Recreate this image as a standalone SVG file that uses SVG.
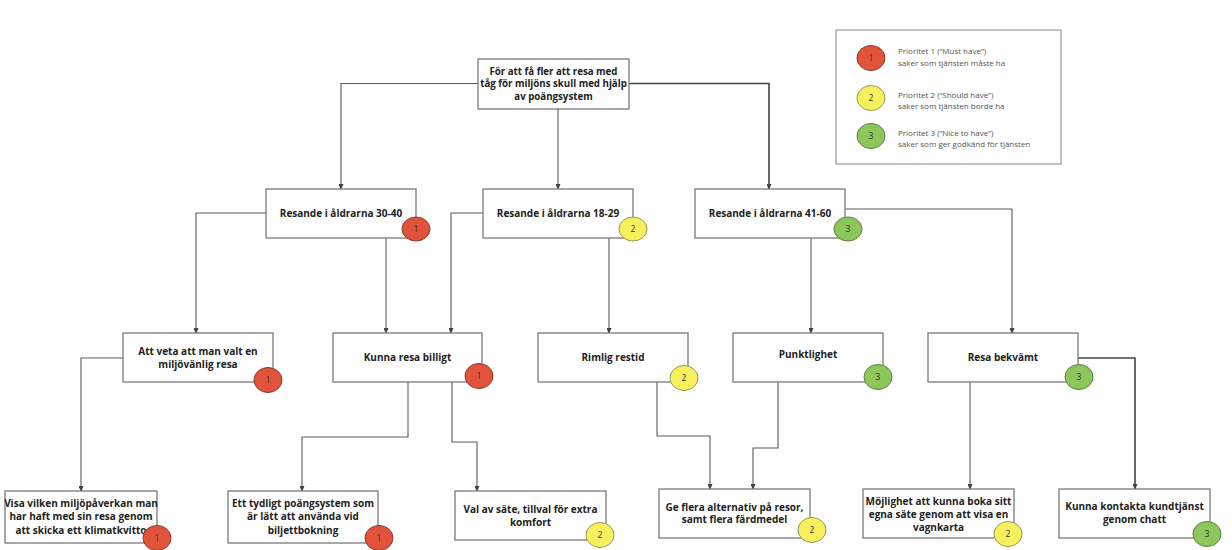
<svg xmlns="http://www.w3.org/2000/svg" width="1232" height="550" viewBox="0 0 1232 550">
  <defs>
    <marker id="arrow" markerWidth="6" markerHeight="5" refX="5" refY="2.5" orient="auto" markerUnits="userSpaceOnUse">
      <path d="M0,0 L6,2.5 L0,5 Z" fill="#444"/>
    </marker>
    <style>
      .box { fill: #ffffff; stroke: #7a7a7a; stroke-width: 1.3; }
      .legend { fill: #ffffff; stroke: #9a9a9a; stroke-width: 1.2; }
      .lbl { font-family: "Open Sans", "Liberation Sans", sans-serif; font-weight: bold; font-size: 10px; fill: #222; text-anchor: middle; }
      .lbl.root { font-size: 9.7px; }
      .leg { font-family: "Open Sans", "Liberation Sans", sans-serif; font-size: 8px; fill: #555; }
      .num { font-family: "Open Sans", "Liberation Sans", sans-serif; font-size: 8.5px; fill: #333; text-anchor: middle; }
      .p1 { fill: #E1533A; stroke: #8c3b2c; stroke-width: 1; }
      .p2 { fill: #F6F05C; stroke: #9a9660; stroke-width: 1; }
      .p3 { fill: #8DC65B; stroke: #5e8040; stroke-width: 1; }
      .wire { fill: none; stroke: #5a5a5a; stroke-width: 1.1; marker-end: url(#arrow); }
      .wire.bold { stroke: #444; stroke-width: 1.6; }
    </style>
  </defs>

  <rect width="1232" height="550" fill="#ffffff"/>

  <!-- connectors -->
  <g id="connectors">
    <path class="wire" d="M478,83.5 H341 V189"/>
    <path class="wire" d="M558,109 V189"/>
    <path class="wire bold" d="M629,83.5 H769 V189"/>
    <path class="wire" d="M266,213 H196 V333"/>
    <path class="wire" d="M386,238 V333"/>
    <path class="wire" d="M483,213 H451 V333"/>
    <path class="wire" d="M609,238 V333"/>
    <path class="wire" d="M811,238 V333"/>
    <path class="wire" d="M845,209 H1012 V333"/>
    <path class="wire" d="M123,358 H81 V491"/>
    <path class="wire" d="M408,382 V437 H302 V491"/>
    <path class="wire" d="M452,382 V442 H477 V491"/>
    <path class="wire" d="M657,382 V436 H710 V489"/>
    <path class="wire" d="M778,382 V448 H753 V489"/>
    <path class="wire" d="M970,382 V489"/>
    <path class="wire bold" d="M1078,358 H1135 V489"/>
  </g>

  <!-- root goal -->
  <g id="root">
    <rect class="box" x="478" y="59" width="151" height="50"/>
    <text class="lbl root" x="553.5" y="74.5">För att få fler att resa med</text>
    <text class="lbl root" x="553.5" y="87">tåg för miljöns skull med hjälp</text>
    <text class="lbl root" x="553.5" y="99.5">av poängsystem</text>
  </g>

  <!-- legend -->
  <g id="legend">
    <rect class="legend" x="836" y="30" width="225" height="134"/>
    <ellipse class="p1" cx="871" cy="58" rx="14" ry="12.5"/>
    <text class="num" x="871" y="61">1</text>
    <text class="leg" x="898" y="54">Prioritet 1 (“Must have”)</text>
    <text class="leg" x="898" y="66">saker som tjänsten måste ha</text>
    <ellipse class="p2" cx="871" cy="98" rx="14" ry="12.5"/>
    <text class="num" x="871" y="101">2</text>
    <text class="leg" x="898" y="98">Prioritet 2 (“Should have”)</text>
    <text class="leg" x="898" y="109">saker som tjänsten borde ha</text>
    <ellipse class="p3" cx="871" cy="136" rx="14" ry="12.5"/>
    <text class="num" x="871" y="139">3</text>
    <text class="leg" x="898" y="136">Prioritet 3 (“Nice to have”)</text>
    <text class="leg" x="898" y="147">saker som ger godkänd för tjänsten</text>
  </g>

  <!-- target groups -->
  <g id="group-30-40">
    <rect class="box" x="266" y="189" width="150" height="49"/>
    <text class="lbl" x="341" y="216.5">Resande i åldrarna 30-40</text>
    <ellipse class="p1" cx="416" cy="229" rx="14" ry="12"/>
    <text class="num" x="416" y="232">1</text>
  </g>
  <g id="group-18-29">
    <rect class="box" x="483" y="189" width="150" height="49"/>
    <text class="lbl" x="558" y="216.5">Resande i åldrarna 18-29</text>
    <ellipse class="p2" cx="633" cy="229" rx="14" ry="12"/>
    <text class="num" x="633" y="232">2</text>
  </g>
  <g id="group-41-60">
    <rect class="box" x="695" y="189" width="150" height="49"/>
    <text class="lbl" x="770" y="216.5">Resande i åldrarna 41-60</text>
    <ellipse class="p3" cx="848" cy="229" rx="14" ry="12"/>
    <text class="num" x="848" y="232">3</text>
  </g>

  <!-- needs -->
  <g id="need-miljo">
    <rect class="box" x="123" y="333" width="150" height="49"/>
    <text class="lbl" x="198" y="354.5">Att veta att man valt en</text>
    <text class="lbl" x="198" y="367.5">miljövänlig resa</text>
    <ellipse class="p1" cx="268" cy="380" rx="14" ry="12.5"/>
    <text class="num" x="268" y="383">1</text>
  </g>
  <g id="need-billigt">
    <rect class="box" x="333" y="333" width="149" height="49"/>
    <text class="lbl" x="407.5" y="360.5">Kunna resa billigt</text>
    <ellipse class="p1" cx="479" cy="376" rx="14" ry="12.5"/>
    <text class="num" x="479" y="379">1</text>
  </g>
  <g id="need-restid">
    <rect class="box" x="538" y="333" width="150" height="49"/>
    <text class="lbl" x="613" y="360.5">Rimlig restid</text>
    <ellipse class="p2" cx="684" cy="378" rx="14" ry="12.5"/>
    <text class="num" x="684" y="381">2</text>
  </g>
  <g id="need-punktlighet">
    <rect class="box" x="733" y="333" width="150" height="49"/>
    <text class="lbl" x="808" y="357.5">Punktlighet</text>
    <ellipse class="p3" cx="878" cy="377" rx="14" ry="12.5"/>
    <text class="num" x="878" y="380">3</text>
  </g>
  <g id="need-bekvamt">
    <rect class="box" x="928" y="333" width="150" height="49"/>
    <text class="lbl" x="1003" y="360.5">Resa bekvämt</text>
    <ellipse class="p3" cx="1079" cy="377" rx="14" ry="12.5"/>
    <text class="num" x="1079" y="380">3</text>
  </g>

  <!-- features -->
  <g id="feature-klimatkvitto">
    <rect class="box" x="5" y="491" width="152" height="52"/>
    <text class="lbl" x="81" y="506.5">Visa vilken miljöpåverkan man</text>
    <text class="lbl" x="81" y="520">har haft med sin resa genom</text>
    <text class="lbl" x="81" y="533.5">att skicka ett klimatkvitto</text>
    <ellipse class="p1" cx="157" cy="538" rx="14" ry="12.5"/>
    <text class="num" x="157" y="541">1</text>
  </g>
  <g id="feature-poangsystem">
    <rect class="box" x="228" y="491" width="150" height="52"/>
    <text class="lbl" x="303" y="506.5">Ett tydligt poängsystem som</text>
    <text class="lbl" x="303" y="520">är lätt att använda vid</text>
    <text class="lbl" x="303" y="533.5">biljettbokning</text>
    <ellipse class="p1" cx="379" cy="538" rx="14" ry="12.5"/>
    <text class="num" x="379" y="541">1</text>
  </g>
  <g id="feature-sate">
    <rect class="box" x="455" y="491" width="151" height="49"/>
    <text class="lbl" x="530.5" y="512.5">Val av säte, tillval för extra</text>
    <text class="lbl" x="530.5" y="525.5">komfort</text>
    <ellipse class="p2" cx="600" cy="535" rx="14" ry="12.5"/>
    <text class="num" x="600" y="538">2</text>
  </g>
  <g id="feature-alternativ">
    <rect class="box" x="659" y="489" width="151" height="49"/>
    <text class="lbl" x="734.5" y="510.5">Ge flera alternativ på resor,</text>
    <text class="lbl" x="734.5" y="523">samt flera färdmedel</text>
    <ellipse class="p2" cx="812" cy="530" rx="14" ry="12.5"/>
    <text class="num" x="812" y="533">2</text>
  </g>
  <g id="feature-vagnkarta">
    <rect class="box" x="863" y="489" width="151" height="49"/>
    <text class="lbl" x="938.5" y="504.5">Möjlighet att kunna boka sitt</text>
    <text class="lbl" x="938.5" y="517.5">egna säte genom att visa en</text>
    <text class="lbl" x="938.5" y="530.5">vagnkarta</text>
    <ellipse class="p2" cx="1008" cy="534" rx="14" ry="12.5"/>
    <text class="num" x="1008" y="537">2</text>
  </g>
  <g id="feature-chatt">
    <rect class="box" x="1059" y="489" width="151" height="49"/>
    <text class="lbl" x="1134.5" y="509.5">Kunna kontakta kundtjänst</text>
    <text class="lbl" x="1134.5" y="522.5">genom chatt</text>
    <ellipse class="p3" cx="1207" cy="534" rx="14" ry="12.5"/>
    <text class="num" x="1207" y="537">3</text>
  </g>
</svg>
